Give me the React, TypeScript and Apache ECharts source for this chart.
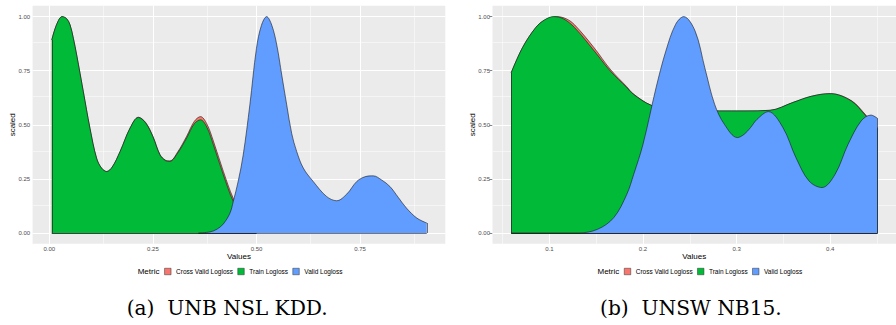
import React, { useEffect, useRef } from "react";
import * as echarts from "echarts";

// ---------- data ----------
const metricNames = ["Cross Valid Logloss", "Train Logloss", "Valid Logloss"];
const metricColors = ["#F8766D", "#00BA38", "#619CFF"];

const yTicks = [0, 0.25, 0.5, 0.75, 1];
const yMinor = [0.125, 0.375, 0.625, 0.875];

// Panel (a) UNB NSL KDD
const aTicksX = [0, 0.25, 0.5, 0.75];
const aMinorX = [0.125, 0.375, 0.625, 0.875];
const aTrain: number[][] = [
  [0.006, 0.892], [0.018, 0.965], [0.031, 1.0], [0.042, 0.99], [0.05, 0.962],
  [0.058, 0.9], [0.066, 0.823], [0.082, 0.654], [0.098, 0.485], [0.114, 0.346],
  [0.126, 0.3], [0.1385, 0.284], [0.152, 0.305], [0.171, 0.377], [0.195, 0.485],
  [0.215, 0.534], [0.232, 0.51], [0.25, 0.445], [0.267, 0.361], [0.28, 0.335],
  [0.291, 0.331], [0.31, 0.37], [0.3315, 0.439], [0.35, 0.505], [0.365, 0.523],
  [0.38, 0.49], [0.396, 0.408], [0.42, 0.269], [0.444, 0.146], [0.47, 0.06], [0.5, 0.01],
];
const aCross: number[][] = [
  [0.006, 0.892], [0.018, 0.965], [0.031, 1.0], [0.042, 0.99], [0.05, 0.962],
  [0.058, 0.9], [0.066, 0.823], [0.082, 0.654], [0.098, 0.485], [0.114, 0.346],
  [0.126, 0.3], [0.1385, 0.284], [0.152, 0.305], [0.171, 0.377], [0.195, 0.485],
  [0.215, 0.535], [0.232, 0.512], [0.25, 0.447], [0.267, 0.363], [0.28, 0.337],
  [0.291, 0.333], [0.31, 0.375], [0.3315, 0.447], [0.35, 0.516], [0.365, 0.538],
  [0.38, 0.505], [0.396, 0.425], [0.42, 0.285], [0.444, 0.16], [0.47, 0.068], [0.5, 0.012],
];
const aValid: number[][] = [
  [0.36, 0.0], [0.388, 0.005], [0.405, 0.018], [0.42, 0.042], [0.436, 0.092],
  [0.444, 0.146], [0.456, 0.24], [0.468, 0.361], [0.484, 0.592], [0.5, 0.854],
  [0.512, 0.96], [0.5245, 1.0], [0.537, 0.96], [0.549, 0.869], [0.561, 0.73],
  [0.573, 0.592], [0.585, 0.46], [0.597, 0.377], [0.613, 0.3], [0.637, 0.238],
  [0.669, 0.169], [0.6935, 0.149], [0.718, 0.18], [0.742, 0.238], [0.762, 0.26],
  [0.782, 0.264], [0.802, 0.245], [0.822, 0.215], [0.842, 0.165], [0.862, 0.115],
  [0.887, 0.069], [0.911, 0.046],
];

// Panel (b) UNSW NB15
const bTicksX = [0.1, 0.2, 0.3, 0.4];
const bMinorX = [0.05, 0.15, 0.25, 0.35, 0.45];
const bTrain: number[][] = [
  [0.0593, 0.741], [0.0714, 0.857], [0.0854, 0.949], [0.095, 0.985], [0.1045, 1.0],
  [0.115, 0.99], [0.127, 0.949], [0.148, 0.841], [0.165, 0.749], [0.1827, 0.672],
  [0.1897, 0.641], [0.2088, 0.59], [0.23, 0.57], [0.26, 0.565], [0.2818, 0.564],
  [0.308, 0.564], [0.3357, 0.567], [0.36, 0.603], [0.38, 0.632], [0.4, 0.644],
  [0.4225, 0.61], [0.438, 0.541], [0.4505, 0.48],
];
const bCross: number[][] = [
  [0.0593, 0.741], [0.0714, 0.857], [0.0854, 0.949], [0.095, 0.984], [0.108, 1.0],
  [0.118, 0.99], [0.127, 0.962], [0.148, 0.855], [0.165, 0.757], [0.1827, 0.676],
  [0.1897, 0.643], [0.2088, 0.59], [0.23, 0.57], [0.26, 0.565], [0.2818, 0.564],
  [0.308, 0.564], [0.3357, 0.567], [0.36, 0.603], [0.38, 0.632], [0.4, 0.644],
  [0.4225, 0.612], [0.438, 0.545], [0.4505, 0.485],
];
const bValid: number[][] = [
  [0.0593, 0.0], [0.1305, 0.0], [0.1514, 0.017], [0.1688, 0.071], [0.1827, 0.179],
  [0.19, 0.27], [0.2, 0.41], [0.214, 0.672], [0.2244, 0.841], [0.2348, 0.964],
  [0.2435, 1.0], [0.2557, 0.933], [0.266, 0.764], [0.2765, 0.595], [0.287, 0.502],
  [0.3008, 0.441], [0.308, 0.456], [0.3148, 0.487], [0.3217, 0.525], [0.3339, 0.561],
  [0.3495, 0.487], [0.3634, 0.348], [0.3774, 0.24], [0.3912, 0.21], [0.4051, 0.271],
  [0.419, 0.41], [0.433, 0.518], [0.4434, 0.545], [0.4504, 0.53],
];

const captions = ["(a)  UNB NSL KDD.", "(b)  UNSW NB15."];

// ---------- layout ----------
const SANS = "Liberation Sans";
const SERIF = "DejaVu Serif";

const panels = [
  { left: 32.6, width: 412.7, xMin: -0.0403, xMax: 0.9557, ticks: aTicksX, minor: aMinorX, digits: 2,
    curves: [aCross, aTrain, aValid], legendLeft: 164.3, metricX: 137.7, capX: 126.7 },
  { left: 492.5, width: 413.2, xMin: 0.0393, xMax: 0.4702, ticks: bTicksX, minor: bMinorX, digits: 1,
    curves: [bCross, bTrain, bValid], legendLeft: 624, metricX: 597.5, capX: 600 },
];
const GRID_TOP = 5.8;
const GRID_H = 238;

function buildOption() {
  const grid: any[] = [];
  const xAxis: any[] = [];
  const yAxis: any[] = [];
  const series: any[] = [];
  const legend: any[] = [];
  const graphic: any[] = [];

  panels.forEach((p, i) => {
    grid.push({
      left: p.left, top: GRID_TOP, width: p.width, height: GRID_H,
      show: true, backgroundColor: "#EBEBEB", borderWidth: 0, containLabel: false,
    });
    xAxis.push({
      type: "value", gridIndex: i, min: p.xMin, max: p.xMax,
      axisLine: { show: false }, splitLine: { show: false },
      axisTick: { show: true, customValues: p.ticks, length: 3, lineStyle: { color: "#333333", width: 0.6 } },
      axisLabel: {
        customValues: p.ticks, fontSize: 6, color: "#4D4D4D", margin: 2.5, fontFamily: SANS,
        formatter: (v: number) => v.toFixed(p.digits),
      },
      name: "Values", nameLocation: "middle", nameGap: 8.7, nameMoveOverlap: false,
      nameTextStyle: { fontSize: 8, color: "#000", fontFamily: SANS },
    });
    yAxis.push({
      type: "value", gridIndex: i, min: -0.05, max: 1.05,
      axisLine: { show: false }, splitLine: { show: false },
      axisTick: { show: true, customValues: yTicks, length: 3, lineStyle: { color: "#333333", width: 0.6 } },
      axisLabel: {
        customValues: yTicks, fontSize: 6, color: "#4D4D4D", margin: 2.5, fontFamily: SANS,
        formatter: (v: number) => v.toFixed(2),
      },
      name: "scaled", nameLocation: "middle", nameGap: 16.4, nameRotate: 90, nameMoveOverlap: false,
      nameTextStyle: { fontSize: 8, color: "#000", fontFamily: SANS },
    });

    const gl: any[] = [];
    p.minor.forEach((v) => gl.push({ xAxis: v, lineStyle: { width: 0.5 } }));
    yMinor.forEach((v) => gl.push({ yAxis: v, lineStyle: { width: 0.5 } }));
    p.ticks.forEach((v) => gl.push({ xAxis: v, lineStyle: { width: 1.1 } }));
    yTicks.forEach((v) => gl.push({ yAxis: v, lineStyle: { width: 1.1 } }));
    series.push({
      type: "line", xAxisIndex: i, yAxisIndex: i, data: [], z: 1, silent: true,
      markLine: {
        z: 1, silent: true, symbol: ["none", "none"], label: { show: false }, animation: false,
        lineStyle: { color: "#FFFFFF", type: "solid", opacity: 1 },
        emphasis: { disabled: true }, data: gl,
      },
    });

    p.curves.forEach((d, k) => {
      const first = d[0];
      const last = d[d.length - 1];
      const z = 10 + k * 10;
      series.push({
        name: metricNames[k], type: "line", xAxisIndex: i, yAxisIndex: i, data: d,
        smooth: 0.35, symbol: "none", showSymbol: false, z,
        color: metricColors[k],
        itemStyle: { color: metricColors[k] },
        lineStyle: { color: "#1A1A1A", width: 0.6 },
        areaStyle: { color: metricColors[k], opacity: 1, origin: 0 },
        emphasis: { disabled: true },
        markLine: {
          z: z + 1, silent: true, symbol: ["none", "none"], label: { show: false }, animation: false,
          lineStyle: { color: "#1A1A1A", type: "solid", width: 0.6 },
          emphasis: { disabled: true },
          data: [
            [{ coord: [first[0], 0] }, { coord: [first[0], first[1]] }],
            [{ coord: [first[0], 0] }, { coord: [last[0], 0] }],
            [{ coord: [last[0], 0] }, { coord: [last[0], last[1]] }],
          ],
        },
      });
    });

    legend.push({
      data: metricNames, left: p.legendLeft, top: 268, orient: "horizontal", icon: "rect",
      itemWidth: 6.5, itemHeight: 6.5, itemGap: 4.5, padding: 0, selectedMode: false,
      textStyle: { fontSize: 6.5, color: "#000", fontFamily: SANS },
      itemStyle: { borderColor: "#333333", borderWidth: 0.5 },
    });

    graphic.push({
      type: "text", x: p.metricX, y: 271.5,
      style: { text: "Metric", fontSize: 8, fontFamily: SANS, fill: "#000", align: "left", verticalAlign: "middle" },
    });
    graphic.push({
      type: "text", x: p.capX, y: 308,
      style: { text: captions[i], fontSize: 20.2, fontFamily: SERIF, fill: "#000", align: "left", verticalAlign: "middle" },
    });
  });

  return {
    animation: false,
    backgroundColor: "#FFFFFF",
    grid, xAxis, yAxis, series, legend, graphic,
  };
}

export default function App() {
  const ref = useRef<HTMLDivElement>(null);
  useEffect(() => {
    document.body.style.margin = "0";
    if (!ref.current) return;
    const chart = echarts.init(ref.current, null, { renderer: "svg" });
    chart.setOption(buildOption() as any);
    return () => chart.dispose();
  }, []);
  return <div ref={ref} style={{ width: 896, height: 325 }} />;
}
